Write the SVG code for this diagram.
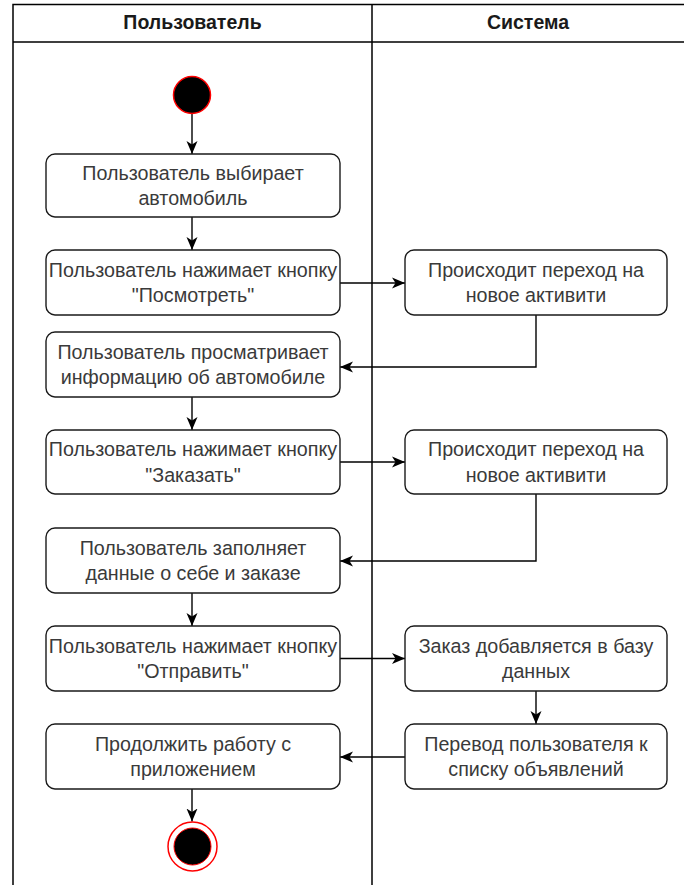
<svg xmlns="http://www.w3.org/2000/svg" width="684" height="885" viewBox="0 0 684 885">
<style>
.lane{fill:none;stroke:#000;stroke-width:1.5}
.box{fill:#fff;stroke:#1a1a1a;stroke-width:1.4}
.t{font-family:"Liberation Sans",Arial,sans-serif;font-size:19.7px;fill:#3a3a3a;text-anchor:middle}
.h{font-family:"Liberation Sans",Arial,sans-serif;font-size:19.5px;font-weight:bold;fill:#1a1a1a;text-anchor:middle}
.c{fill:none;stroke:#000;stroke-width:1.4}
</style>
<defs>
<marker id="arr" markerUnits="userSpaceOnUse" markerWidth="14" markerHeight="12" refX="13" refY="6" orient="auto">
<path d="M0,0.5 L13,6 L0,11.5 L3.5,6 Z" fill="#000"/>
</marker>
</defs>
<rect width="684" height="885" fill="#fff"/>
<g id="lanes">
<path class="lane" d="M13,885 V4.5 H684 M13,42 H684 M372,4.5 V885"/>
<text class="h" x="192.5" y="28.5">Пользователь</text>
<text class="h" x="528" y="28.5">Система</text>
</g>
<g id="connectors">
<path class="c" marker-end="url(#arr)" d="M192,113.5 V154"/>
<path class="c" marker-end="url(#arr)" d="M192,217 V250"/>
<path class="c" marker-end="url(#arr)" d="M340,283 H405"/>
<path class="c" marker-end="url(#arr)" d="M536,315 V367 H340"/>
<path class="c" marker-end="url(#arr)" d="M192,397 V430"/>
<path class="c" marker-end="url(#arr)" d="M340,462 H405"/>
<path class="c" marker-end="url(#arr)" d="M536,494 V561 H340"/>
<path class="c" marker-end="url(#arr)" d="M192,593 V626"/>
<path class="c" marker-end="url(#arr)" d="M340,658.5 H405"/>
<path class="c" marker-end="url(#arr)" d="M536,691 V724"/>
<path class="c" marker-end="url(#arr)" d="M405,757 H340"/>
<path class="c" marker-end="url(#arr)" d="M192,789 V821.5"/>
</g>
<g id="start"><circle cx="192" cy="95" r="18.5" fill="#000" stroke="#ff0000" stroke-width="1.5"/></g>
<g id="b1"><rect class="box" x="46" y="154" width="294" height="63" rx="9"/>
<text class="t" x="193" y="179.5">Пользователь выбирает</text><text class="t" x="193" y="205">автомобиль</text></g>
<g id="b2"><rect class="box" x="46" y="250" width="294" height="65" rx="9"/>
<text class="t" x="193" y="276.5">Пользователь нажимает кнопку</text><text class="t" x="193" y="302">"Посмотреть"</text></g>
<g id="r1"><rect class="box" x="405" y="250" width="262" height="65" rx="9"/>
<text class="t" x="536" y="276.5">Происходит переход на</text><text class="t" x="536" y="302">новое активити</text></g>
<g id="b3"><rect class="box" x="46" y="332" width="294" height="65" rx="9"/>
<text class="t" x="193" y="358.5">Пользователь просматривает</text><text class="t" x="193" y="384">информацию об автомобиле</text></g>
<g id="b4"><rect class="box" x="46" y="430" width="294" height="64" rx="9"/>
<text class="t" x="193" y="456">Пользователь нажимает кнопку</text><text class="t" x="193" y="481.5">"Заказать"</text></g>
<g id="r2"><rect class="box" x="405" y="430" width="262" height="64" rx="9"/>
<text class="t" x="536" y="456">Происходит переход на</text><text class="t" x="536" y="481.5">новое активити</text></g>
<g id="b5"><rect class="box" x="46" y="528" width="294" height="65" rx="9"/>
<text class="t" x="193" y="554.5">Пользователь заполняет</text><text class="t" x="193" y="580">данные о себе и заказе</text></g>
<g id="b6"><rect class="box" x="46" y="626" width="294" height="65" rx="9"/>
<text class="t" x="193" y="652.5">Пользователь нажимает кнопку</text><text class="t" x="193" y="678">"Отправить"</text></g>
<g id="r3"><rect class="box" x="405" y="626" width="262" height="65" rx="9"/>
<text class="t" x="536" y="652.5">Заказ добавляется в базу</text><text class="t" x="536" y="678">данных</text></g>
<g id="b7"><rect class="box" x="46" y="724" width="294" height="65" rx="9"/>
<text class="t" x="193" y="750.5">Продолжить работу с</text><text class="t" x="193" y="776">приложением</text></g>
<g id="r4"><rect class="box" x="405" y="724" width="262" height="65" rx="9"/>
<text class="t" x="536" y="750.5">Перевод пользователя к</text><text class="t" x="536" y="776">списку объявлений</text></g>
<g id="end"><circle cx="192.5" cy="846.5" r="24.5" fill="#fff" stroke="#ff0000" stroke-width="1.5"/><circle cx="192.5" cy="846.5" r="18.5" fill="#000" stroke="#ff0000" stroke-width="1"/></g>
</svg>
